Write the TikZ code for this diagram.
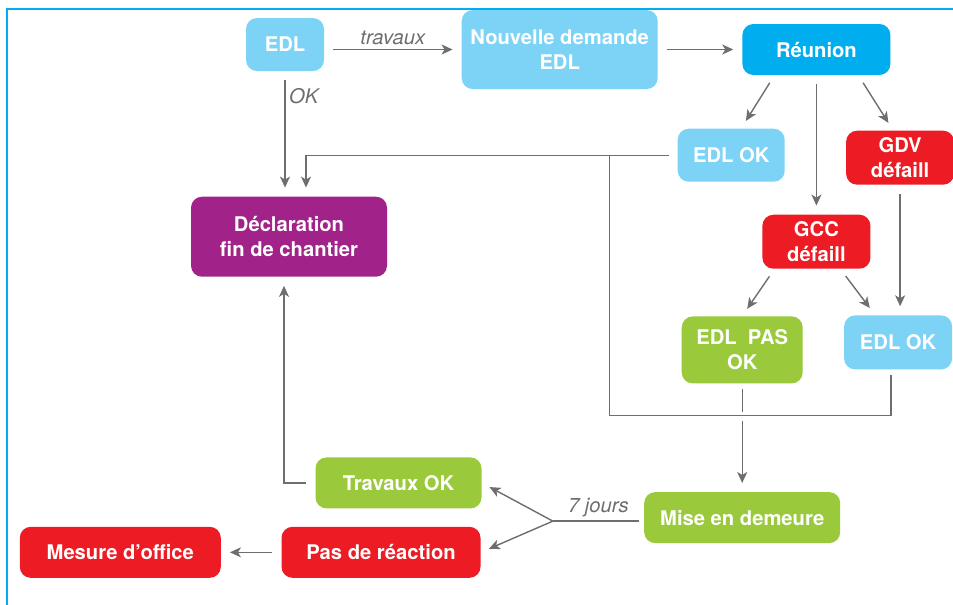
\documentclass[tikz,border=0pt]{standalone}
\usepackage{fontspec}
\setmainfont{TeX Gyre Heros}
\usepackage{xcolor}
\usepackage{tikz}
\usetikzlibrary{arrows.meta,positioning}
\definecolor{edlblue}{RGB}{125,211,245}
\definecolor{cyanblue}{RGB}{0,174,239}
\definecolor{chantier}{RGB}{161,34,137}
\definecolor{alert}{RGB}{237,28,36}
\definecolor{good}{RGB}{154,202,60}
\definecolor{linegray}{RGB}{110,110,112}

\begin{document}
\begin{tikzpicture}[font=\fontsize{11.5}{14}\selectfont,
  box/.style={rounded corners=0.22cm, inner sep=0pt, align=center, text=white, font=\fontsize{11.5}{14}\selectfont\bfseries},
  wire/.style={draw=linegray, line width=0.8pt},
  arr/.style={wire, -{Stealth[length=2.2mm, width=2mm, inset=0.6mm]}, shorten <=5pt, shorten >=5pt},
  lbl/.style={font=\fontsize{11.5}{14}\selectfont\itshape, text=linegray, inner sep=2pt}]
  \useasboundingbox (0,0) rectangle (19.06,-12.08);
  \draw[cyanblue, line width=1.2pt] (0.14,-12.2) -- (0.14,-0.18) -- (19.2,-0.18);

  \node[box, fill=edlblue, minimum width=1.56cm, minimum height=1.06cm] (edl) at (5.70,-0.89) {EDL};
  \node[box, fill=edlblue, minimum width=3.92cm, minimum height=1.58cm, right=2.74cm of edl, yshift=-0.1cm]
    (nouv) {Nouvelle demande\\EDL};
  \node[box, fill=cyanblue, minimum width=2.96cm, minimum height=1.02cm, right=1.68cm of nouv]
    (reunion) {Réunion};
  \node[box, fill=edlblue, minimum width=2.14cm, minimum height=1.06cm, below left=1.06cm and -0.86cm of reunion]
    (edlok1) {EDL OK};
  \node[box, fill=alert, minimum width=2.16cm, minimum height=1.08cm, below right=1.1cm and -0.9cm of reunion]
    (gdv) {GDV\\défaill};
  \node[box, fill=alert, minimum width=2.16cm, minimum height=1.08cm, below=2.78cm of reunion]
    (gcc) {GCC\\défaill};
  \node[box, fill=good, minimum width=2.42cm, minimum height=1.34cm, below left=0.94cm and -0.82cm of gcc]
    (edlpas) {EDL\ \ PAS\\OK};
  \node[box, fill=edlblue, minimum width=2.16cm, minimum height=1.08cm, below right=0.92cm and -0.54cm of gcc]
    (edlok2) {EDL OK};
  \node[box, fill=good, minimum width=3.92cm, minimum height=1.02cm, below=2.16cm of edlpas]
    (mise) {Mise en demeure};
  \node[box, fill=chantier, minimum width=3.92cm, minimum height=1.6cm, below=2.5cm of edl, xshift=0.08cm]
    (decl) {Déclaration\\fin de chantier};
  \node[box, fill=good, minimum width=3.32cm, minimum height=1.02cm, above left=-0.34cm and 3.24cm of mise]
    (travok) {Travaux OK};
  \node[box, fill=alert, minimum width=3.98cm, minimum height=1.02cm, below left=-0.34cm and 3.26cm of mise]
    (pasreac) {Pas de réaction};
  \node[box, fill=alert, minimum width=4.02cm, minimum height=1.02cm, left=1.2cm of pasreac]
    (mesure) {Mesure d’office};

  \coordinate[below=0.64cm of edlpas] (bus);
  \coordinate[left=2.65cm of bus] (busleft);
  \coordinate[left=1.82cm of mise, yshift=-0.07cm] (fork);

  \draw[arr] (edl.east |- nouv.west) -- (nouv.west) node[midway, above, lbl] {travaux};
  \draw[arr] (nouv) -- (reunion);
  \draw[arr] (edl.south) -- (edl.south |- decl.north) node[pos=0.2, right, lbl] {OK};
  \draw[arr] ([xshift=-0.84cm]reunion.south) -- ([xshift=0.2cm]edlok1.north);
  \draw[arr] (reunion) -- (gcc);
  \draw[arr] ([xshift=0.84cm]reunion.south) -- ([xshift=-0.14cm]gdv.north);
  \draw[arr] ([xshift=-0.84cm]gcc.south) -- (edlpas.north);
  \draw[arr] ([xshift=0.48cm]gcc.south) -- ([xshift=-0.46cm]edlok2.north);
  \draw[arr] (gdv.south) -- (gdv.south |- edlok2.north);
  \draw[arr] (edlok1.west) -| ([xshift=0.34cm]decl.north);
  \draw[wire, shorten <=3pt] ([xshift=-0.14cm]edlok2.south) |- (busleft) -- (busleft |- edlok1.west);
  \draw[wire, shorten <=3pt, shorten >=2pt] (edlpas.south) -- (bus);
  \draw[arr, shorten <=3pt] (bus) -- (mise.north);
  \draw[wire, shorten <=3pt] (mise.west |- fork) -- (fork) node[midway, above, lbl] {7 jours};
  \draw[arr, shorten <=0pt] (fork) -- (travok.east);
  \draw[arr, shorten <=0pt] (fork) -- (pasreac.east);
  \draw[arr] (travok.west) -| ([xshift=-0.1cm]decl.south);
  \draw[arr] (pasreac.west) -- (mesure.east |- pasreac.west);
\end{tikzpicture}
\end{document}
